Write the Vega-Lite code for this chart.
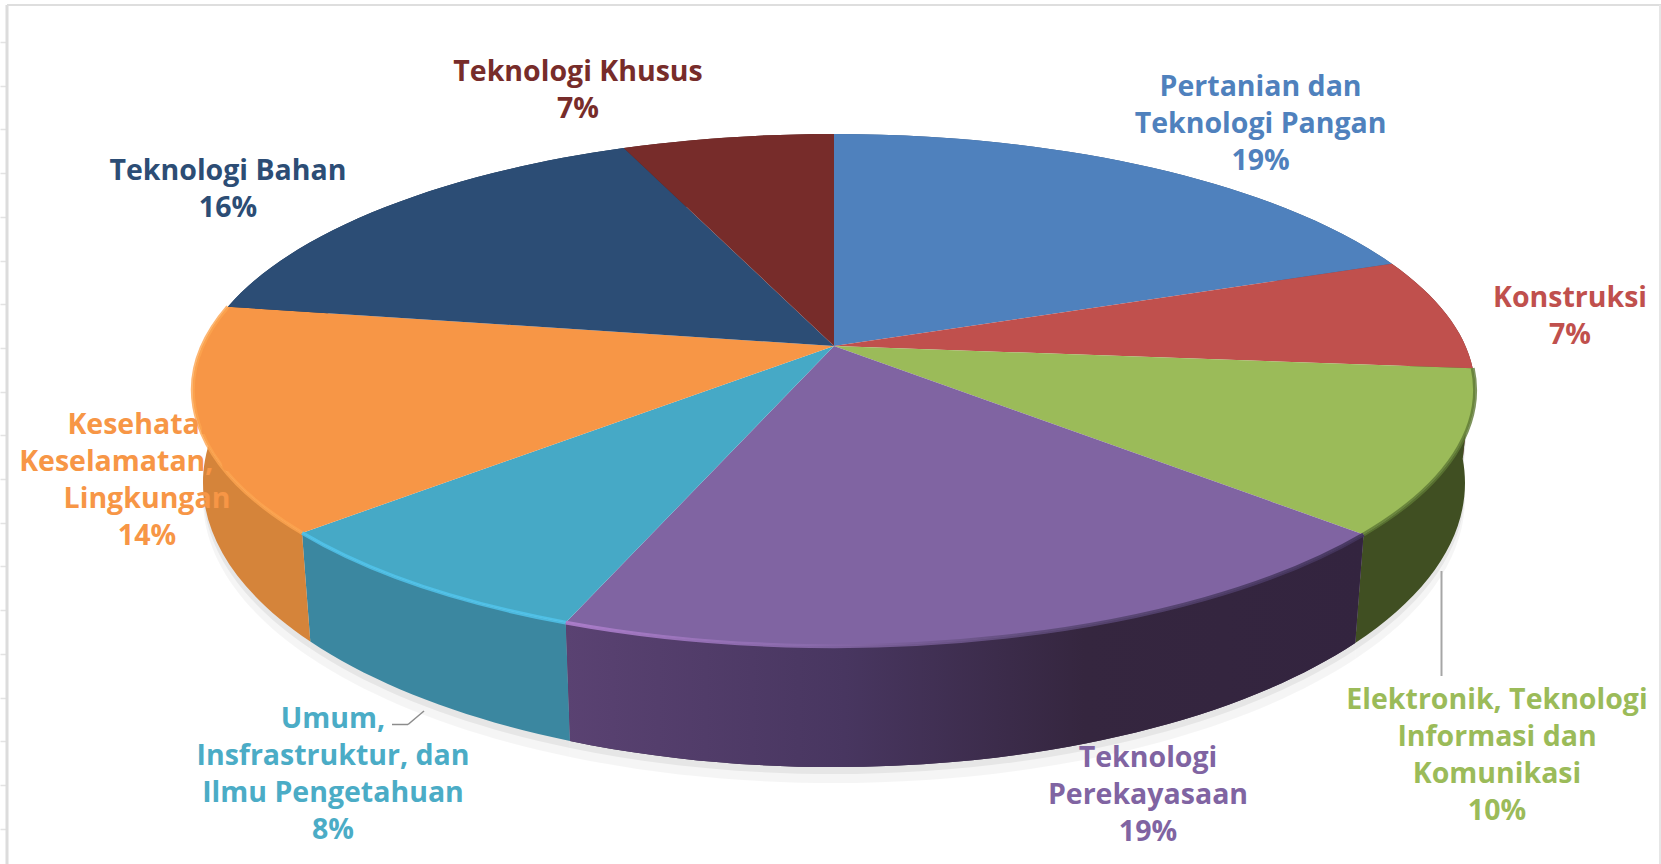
{
"$schema":"https://vega.github.io/schema/vega-lite/v6.json",
"width":1661,"height":864,"autosize":{"type":"none"},"padding":0,"background":"#ffffff",
"config":{"view":{"stroke":null}},
"data":{"values":[
{"ord":1,"name":"Pertanian dan\nTeknologi Pangan","share":19.3,"pct":19},
{"ord":2,"name":"Konstruksi","share":7.1,"pct":7},
{"ord":3,"name":"Elektronik, Teknologi\nInformasi dan\nKomunikasi","share":10.3,"pct":10},
{"ord":4,"name":"Teknologi\nPerekayasaan","share":19.1,"pct":19},
{"ord":5,"name":"Umum,\nInsfrastruktur, dan\nIlmu Pengetahuan","share":7.6,"pct":8},
{"ord":6,"name":"Kesehatan,\nKeselamatan, dan\nLingkungan","share":14.2,"pct":14},
{"ord":7,"name":"Teknologi Bahan","share":16.1,"pct":16},
{"ord":8,"name":"Teknologi Khusus","share":6.3,"pct":7}
]},
"transform":[
{"window":[{"op":"sum","field":"share","as":"c1"}],"sort":[{"field":"ord","order":"ascending"}],"frame":[null,0]},
{"calculate":"(datum.c1-datum.share)/100*2*PI","as":"a0"},
{"calculate":"datum.c1/100*2*PI","as":"a1"},
{"calculate":"round(6315*sin(datum.a0)/(1+0.172*cos(datum.a0)))/10","as":"x0"},
{"calculate":"round(-2485*cos(datum.a0)/(1+0.172*cos(datum.a0)))/10","as":"y0"},
{"calculate":"round(6315*sin(datum.a1)/(1+0.172*cos(datum.a1)))/10","as":"x1"},
{"calculate":"round(-2485*cos(datum.a1)/(1+0.172*cos(datum.a1)))/10","as":"y1"},
{"calculate":"round(6216*sin(datum.a0)/(1+0.172*cos(datum.a0)))/10","as":"xb0"},
{"calculate":"round(882-2756*cos(datum.a0)/(1+0.172*cos(datum.a0)))/10","as":"yb0"},
{"calculate":"round(6216*sin(datum.a1)/(1+0.172*cos(datum.a1)))/10","as":"xb1"},
{"calculate":"round(882-2756*cos(datum.a1)/(1+0.172*cos(datum.a1)))/10","as":"yb1"},
{"calculate":"datum.x0+','+datum.y0","as":"p0"},
{"calculate":"datum.x1+','+datum.y1","as":"p1"},
{"calculate":"'M0,0L'+datum.p0+'A641,256,0,0,1,'+datum.p1+'Z'","as":"top"},
{"calculate":"'M'+datum.p0+'A641,256,0,0,1,'+datum.p1","as":"rim"},
{"calculate":"datum.rim+'L'+datum.xb1+','+datum.yb1+'A631,284,0,0,0,'+datum.xb0+','+datum.yb0+'Z'","as":"wall"},
{"calculate":"datum.rim+'L'+datum.xb1+','+(datum.yb1+7)+'A631,284,0,0,0,'+datum.xb0+','+(datum.yb0+7)+'Z'","as":"sh1"},
{"calculate":"datum.rim+'L'+datum.xb1+','+(datum.yb1+16)+'A631,284,0,0,0,'+datum.xb0+','+(datum.yb0+16)+'Z'","as":"sh2"},
{"calculate":"[426.6,736,663,314,-501,-687,-606,-256][datum.ord-1]","as":"lx"},
{"calculate":"[-273.5,-62,339.5,397.5,358.5,64.5,-189.5,-288.5][datum.ord-1]","as":"ly"},
{"calculate":"datum.name+'\\n'+datum.pct+'%'","as":"label"}
],
"layer":[
{"data":{"values":[{"frame":"left"}]},"mark":{"type":"rule","color":"#dcdcdc","strokeWidth":3},
 "encoding":{"x":{"datum":-827,"type":"quantitative","scale":{"domain":[-834,827],"nice":false,"zero":false},"axis":null},"y":{"datum":-341,"type":"quantitative","scale":{"domain":[-346,518],"reverse":true,"nice":false,"zero":false},"axis":{"orient":"left","offset":-7,"values":[-304,-260.3,-216.6,-172.9,-129.2,-85.5,-41.8,1.9,45.6,89.3,133,176.7,220.4,264.1,307.8,351.5,395.2,438.9,482.6],"ticks":true,"tickSize":7,"tickColor":"#e3e3e3","tickWidth":1.5,"labels":false,"domain":false,"grid":false,"title":null}},"y2":{"datum":518}}},
{"data":{"values":[{"frame":"top"}]},"mark":{"type":"rule","color":"#dedede","strokeWidth":2},
 "encoding":{"y":{"datum":-341,"type":"quantitative","scale":{"domain":[-346,518],"reverse":true,"nice":false,"zero":false}},"x":{"datum":-827,"type":"quantitative","scale":{"domain":[-834,827],"nice":false,"zero":false},"axis":null},"x2":{"datum":827}}},
{"data":{"values":[{"frame":"right"}]},"mark":{"type":"rule","color":"#e6e6e6","strokeWidth":2},
 "encoding":{"x":{"datum":826,"type":"quantitative","scale":{"domain":[-834,827],"nice":false,"zero":false},"axis":null},"y":{"datum":-341,"type":"quantitative","scale":{"domain":[-346,518],"reverse":true,"nice":false,"zero":false}},"y2":{"datum":518}}},
{"mark":{"type":"point","filled":true,"size":4,"opacity":0.04,"fill":"#000000"},
 "encoding":{"x":{"datum":0,"type":"quantitative","scale":{"domain":[-834,827],"nice":false,"zero":false},"axis":null},"y":{"datum":0,"type":"quantitative","scale":{"domain":[-346,518],"reverse":true,"nice":false,"zero":false}},"shape":{"field":"sh2","type":"nominal","scale":null}}},
{"mark":{"type":"point","filled":true,"size":4,"opacity":0.06,"fill":"#000000"},
 "encoding":{"x":{"datum":0,"type":"quantitative","scale":{"domain":[-834,827],"nice":false,"zero":false},"axis":null},"y":{"datum":0,"type":"quantitative","scale":{"domain":[-346,518],"reverse":true,"nice":false,"zero":false}},"shape":{"field":"sh1","type":"nominal","scale":null}}},
{"mark":{"type":"point","filled":true,"size":4,"opacity":1},
 "encoding":{"x":{"datum":0,"type":"quantitative","scale":{"domain":[-834,827],"nice":false,"zero":false},"axis":null},"y":{"datum":0,"type":"quantitative","scale":{"domain":[-346,518],"reverse":true,"nice":false,"zero":false}},"shape":{"field":"wall","type":"nominal","scale":null},
 "fill":{"field":"ord","type":"ordinal","legend":null,"scale":{"domain":[1,2,3,4,5,6,7,8],"range":["#3a5f8c","#6b2c2a","#404f22","#3c2c4c","#3b87a0","#d5843a","#1e3a5c","#5a211f"]}}}},
{"transform":[{"filter":"datum.ord==4"}],
 "mark":{"type":"point","filled":true,"size":4,"opacity":1,"fill":{"gradient":"linear","x1":0,"x2":1,"y1":0,"y2":0,"stops":[{"offset":0,"color":"#5a4272"},{"offset":0.35,"color":"#483660"},{"offset":0.65,"color":"#35263f"},{"offset":1,"color":"#33243f"}]}},
 "encoding":{"x":{"datum":0,"type":"quantitative","scale":{"domain":[-834,827],"nice":false,"zero":false},"axis":null},"y":{"datum":0,"type":"quantitative","scale":{"domain":[-346,518],"reverse":true,"nice":false,"zero":false}},"shape":{"field":"wall","type":"nominal","scale":null}}},
{"mark":{"type":"point","filled":true,"size":4,"opacity":1},
 "encoding":{"x":{"datum":0,"type":"quantitative","scale":{"domain":[-834,827],"nice":false,"zero":false},"axis":null},"y":{"datum":0,"type":"quantitative","scale":{"domain":[-346,518],"reverse":true,"nice":false,"zero":false}},"shape":{"field":"top","type":"nominal","scale":null},
 "fill":{"field":"ord","type":"ordinal","legend":null,"scale":{"domain":[1,2,3,4,5,6,7,8],"range":["#4f81bd","#c0504d","#9bbb59","#8064a2","#46a9c6","#f79646","#2c4d75","#772c2a"]}}}},
{"transform":[{"filter":"datum.ord==3 || datum.ord==5 || datum.ord==6"}],
 "mark":{"type":"point","filled":false,"size":4,"opacity":0.8,"strokeWidth":4},
 "encoding":{"x":{"datum":0,"type":"quantitative","scale":{"domain":[-834,827],"nice":false,"zero":false},"axis":null},"y":{"datum":0,"type":"quantitative","scale":{"domain":[-346,518],"reverse":true,"nice":false,"zero":false}},"shape":{"field":"rim","type":"nominal","scale":null},
 "stroke":{"field":"ord","type":"ordinal","legend":null,"scale":{"domain":[3,5,6],"range":["#5f7a35","#52c6ee","#fda550"]}}}},
{"transform":[{"filter":"datum.ord==4"}],
 "mark":{"type":"point","filled":false,"size":4,"opacity":0.9,"strokeWidth":4,"stroke":{"gradient":"linear","x1":0,"x2":1,"y1":0,"y2":0,"stops":[{"offset":0,"color":"#b080cf"},{"offset":0.3,"color":"#8c6cae"},{"offset":0.6,"color":"#5d4a78"},{"offset":1,"color":"#43345c"}]}},
 "encoding":{"x":{"datum":0,"type":"quantitative","scale":{"domain":[-834,827],"nice":false,"zero":false},"axis":null},"y":{"datum":0,"type":"quantitative","scale":{"domain":[-346,518],"reverse":true,"nice":false,"zero":false}},"shape":{"field":"rim","type":"nominal","scale":null}}},
{"data":{"values":[{"leader":"Elektronik"}]},"mark":{"type":"rule","color":"#a6a6a6","strokeWidth":2},
 "encoding":{"x":{"datum":607.5,"type":"quantitative","scale":{"domain":[-834,827],"nice":false,"zero":false},"axis":null},"y":{"datum":225,"type":"quantitative","scale":{"domain":[-346,518],"reverse":true,"nice":false,"zero":false}},"y2":{"datum":330}}},
{"data":{"values":[{"leader":"Umum"}]},"mark":{"type":"rule","color":"#8c8c8c","strokeWidth":1.5},
 "encoding":{"x":{"datum":-442,"type":"quantitative","scale":{"domain":[-834,827],"nice":false,"zero":false},"axis":null},"x2":{"datum":-426},"y":{"datum":378.5,"type":"quantitative","scale":{"domain":[-346,518],"reverse":true,"nice":false,"zero":false}},"y2":{"datum":378.5}}},
{"data":{"values":[{"leader":"Umum"}]},"mark":{"type":"rule","color":"#8c8c8c","strokeWidth":1.5},
 "encoding":{"x":{"datum":-426,"type":"quantitative","scale":{"domain":[-834,827],"nice":false,"zero":false},"axis":null},"x2":{"datum":-410},"y":{"datum":378.5,"type":"quantitative","scale":{"domain":[-346,518],"reverse":true,"nice":false,"zero":false}},"y2":{"datum":365}}},
{"mark":{"type":"text","font":"Open Sans","fontWeight":"bold","fontSize":28.5,"align":"center","baseline":"top","lineBreak":"\n","lineHeight":37},
 "encoding":{"x":{"field":"lx","type":"quantitative","scale":{"domain":[-834,827],"nice":false,"zero":false},"axis":null},"y":{"field":"ly","type":"quantitative","scale":{"domain":[-346,518],"reverse":true,"nice":false,"zero":false}},
 "text":{"field":"label","type":"nominal"},
 "color":{"field":"ord","type":"ordinal","legend":null,"scale":{"domain":[1,2,3,4,5,6,7,8],"range":["#4f81bd","#c0504d","#9bbb59","#8064a2","#4bacc6","#f79646","#2c4d75","#772c2a"]}}}}
],
"resolve":{"scale":{"fill":"independent","stroke":"independent","color":"independent"}}
}
